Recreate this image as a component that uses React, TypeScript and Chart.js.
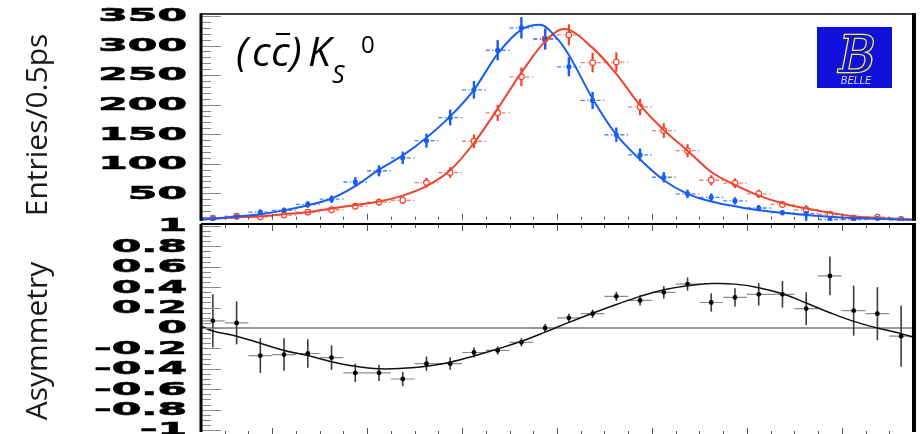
import React, { useEffect, useRef } from "react";
import { Chart, registerables } from "chart.js";
Chart.register(...registerables);

// ---------- data ----------
const binCenters = [-7.25, -6.75, -6.25, -5.75, -5.25, -4.75, -4.25, -3.75, -3.25, -2.75, -2.25, -1.75, -1.25, -0.75, -0.25, 0.25, 0.75, 1.25, 1.75, 2.25, 2.75, 3.25, 3.75, 4.25, 4.75, 5.25, 5.75, 6.25, 6.75, 7.25];
const binHalfWidth = 0.25;

const blueCounts = [7, 10, 18, 21, 31, 40, 69, 88, 110, 139, 178, 225, 292, 330, 311, 264, 207, 149, 115, 77, 49, 43, 37, 25, 17, 15.5, 5.5, 5.5, 7, 5];
const blueErr = [2.6, 3.2, 4.2, 4.6, 5.6, 6.3, 8.3, 9.4, 10.5, 11.8, 13.3, 15, 17.1, 18.2, 17.6, 16.2, 14.4, 12.2, 10.7, 8.8, 7, 6.6, 6.1, 5, 4.1, 14, 2.3, 2.3, 2.6, 2.2];
const redCounts = [8, 11, 10, 13, 18, 22, 28, 35, 38, 68, 85, 138, 186, 247, 311, 318, 271, 272, 196, 156, 122, 72, 67, 49, 31, 22, 14, 8, 9.5, 5.5];
const redErr = [2.8, 3.3, 3.2, 3.6, 4.2, 4.7, 5.3, 5.9, 6.2, 8.2, 9.2, 11.7, 13.6, 15.7, 17.6, 17.8, 16.5, 16.5, 14, 12.5, 11, 8.5, 8.2, 7, 5.6, 4.7, 3.7, 2.8, 3.1, 2.3];

const blueFitT = [-7.5, -7.25, -6.75, -6.25, -5.75, -5.25, -4.75, -4.25, -3.75, -3.25, -2.75, -2.25, -1.75, -1.25, -0.75, -0.35, 0, 0.25, 0.75, 1.25, 1.75, 2.25, 2.75, 3.25, 3.75, 4.25, 4.75, 5.25, 5.75, 6.25, 6.75, 7.25, 7.5];
const blueFitY = [5.5, 7, 10.5, 14.5, 21, 29.5, 41, 62, 90, 114, 144, 180, 225, 286, 327, 335, 312, 284, 210, 149, 107, 72, 49, 36, 28, 21, 17, 13, 10, 8, 7, 5.5, 4.5];
const redFitT = [-7.5, -7.25, -6.75, -6.25, -5.75, -5.25, -4.75, -4.25, -3.75, -3.25, -2.75, -2.25, -1.75, -1.25, -0.75, -0.25, 0.15, 0.75, 1.25, 1.75, 2.25, 2.75, 3.25, 3.75, 4.25, 4.75, 5.25, 5.75, 6.25, 6.75, 7.25, 7.5];
const redFitY = [4.5, 7, 9, 11, 14.5, 18, 24, 30, 36, 46, 62, 89, 135, 193, 254, 307, 328, 296, 252, 199, 157, 122, 86, 64, 46, 33, 24, 17, 11, 8, 6.5, 5.5];

const asymValues = [0.07, 0.05, -0.27, -0.26, -0.25, -0.29, -0.44, -0.44, -0.5, -0.35, -0.35, -0.24, -0.22, -0.14, 0.0, 0.1, 0.14, 0.31, 0.27, 0.35, 0.43, 0.25, 0.3, 0.33, 0.33, 0.19, 0.51, 0.17, 0.14, -0.08];
const asymErr = [0.26, 0.21, 0.17, 0.16, 0.14, 0.12, 0.09, 0.08, 0.07, 0.07, 0.06, 0.05, 0.04, 0.04, 0.04, 0.04, 0.04, 0.045, 0.05, 0.06, 0.065, 0.09, 0.09, 0.11, 0.13, 0.16, 0.19, 0.245, 0.26, 0.3];
const asymFitT = [-7.5, -7.25, -6.75, -6.25, -5.75, -5.25, -4.75, -4.25, -3.75, -3.25, -2.75, -2.25, -1.75, -1.25, -0.75, -0.25, 0.25, 0.75, 1.25, 1.75, 2.25, 2.75, 3.25, 3.75, 4.25, 4.75, 5.25, 5.75, 6.25, 6.75, 7.25, 7.5];
const asymFitY = [0.02, -0.03, -0.08, -0.15, -0.22, -0.27, -0.33, -0.375, -0.4, -0.395, -0.375, -0.335, -0.275, -0.205, -0.13, -0.04, 0.055, 0.145, 0.23, 0.31, 0.375, 0.415, 0.435, 0.43, 0.395, 0.335, 0.245, 0.15, 0.065, 0.0, -0.055, -0.09];

const topTickValues = [50, 100, 150, 200, 250, 300, 350];
const topTickLabels = ["50", "100", "150", "200", "250", "300", "350"];
const asymTickValues = [1, 0.8, 0.6, 0.4, 0.2, 0, -0.2, -0.4, -0.6, -0.8, -1];
const asymTickLabels = ["1", "0.8", "0.6", "0.4", "0.2", "0", "-0.2", "-0.4", "-0.6", "-0.8", "-1"];
const xMajorTicks = [-6, -4, -2, 0, 2, 4, 6];

// ---------- styles ----------
const BLUE = "#1b5df2";
const BLUE_LIGHT = "#4a80f5";
const RED = "#f0432c";
const RED_LIGHT = "#f37f6e";
const TICK = "#8a8a8a";

function drawErrors(ctx: any, xs: any, ys: any, vals: number[], errs: number[], vColor: string, hColor: string, dashed: boolean, vWidth: number, hWidth: number, gap: number) {
  for (let i = 0; i < vals.length; i++) {
    const t = binCenters[i];
    const px = xs.getPixelForValue(t);
    const py = ys.getPixelForValue(vals[i]);
    const pt = Math.max(ys.top, ys.getPixelForValue(vals[i] + errs[i]));
    const pb = Math.min(ys.bottom, ys.getPixelForValue(vals[i] - errs[i]));
    ctx.strokeStyle = vColor;
    ctx.lineWidth = vWidth;
    ctx.setLineDash([]);
    ctx.beginPath();
    ctx.moveTo(px, pt);
    ctx.lineTo(px, pb);
    ctx.stroke();
    const xl = xs.getPixelForValue(t - binHalfWidth);
    const xr = xs.getPixelForValue(t + binHalfWidth);
    ctx.strokeStyle = hColor;
    ctx.lineWidth = hWidth;
    if (dashed) ctx.setLineDash([4, 2.5]);
    ctx.beginPath();
    ctx.moveTo(xl, py);
    ctx.lineTo(px - gap, py);
    ctx.moveTo(px + gap, py);
    ctx.lineTo(xr, py);
    ctx.stroke();
    ctx.setLineDash([]);
  }
}

function drawStretchedLabel(ctx: any, text: string, xRight: number, y: number) {
  ctx.save();
  ctx.translate(xRight, y);
  ctx.scale(2.5, 1);
  ctx.font = 'bold 17px "DejaVu Sans"';
  ctx.fillStyle = "#000";
  ctx.textAlign = "right";
  ctx.textBaseline = "middle";
  ctx.fillText(text, 0, 1);
  ctx.strokeStyle = "#000";
  ctx.lineWidth = 0.6;
  ctx.strokeText(text, 0, 1);
  ctx.restore();
}

function drawRotatedTitle(ctx: any, text: string, cx: number, cy: number) {
  ctx.save();
  ctx.translate(cx, cy);
  ctx.rotate(-Math.PI / 2);
  ctx.font = '30px "Open Sans"';
  ctx.fillStyle = "#1a1a1a";
  ctx.textAlign = "center";
  ctx.textBaseline = "middle";
  ctx.fillText(text, 0, 0);
  ctx.restore();
}

function drawXTicks(ctx: any, xs: any, yEdge: number, dir: number) {
  ctx.strokeStyle = "#555";
  ctx.lineWidth = 1;
  ctx.beginPath();
  for (let t = -7; t <= 7.001; t += 0.5) {
    const px = Math.round(xs.getPixelForValue(t)) + 0.5;
    const major = xMajorTicks.some((m) => Math.abs(m - t) < 1e-6);
    const len = major ? 6 : 3;
    ctx.moveTo(px, yEdge);
    ctx.lineTo(px, yEdge + dir * len);
  }
  ctx.stroke();
}

function drawYTicks(ctx: any, ys: any, left: number, minorStep: number, vmin: number, vmax: number, majors: number[]) {
  ctx.strokeStyle = TICK;
  ctx.lineWidth = 1;
  ctx.beginPath();
  const n = Math.round((vmax - vmin) / minorStep);
  for (let k = 0; k <= n; k++) {
    const v = vmin + k * minorStep;
    const py = Math.round(ys.getPixelForValue(v)) + 0.5;
    if (py < ys.top + 1 || py > ys.bottom - 1) continue;
    const major = majors.some((m) => Math.abs(m - v) < 1e-6);
    ctx.moveTo(left, py);
    ctx.lineTo(left + (major ? 20 : 10), py);
  }
  ctx.stroke();
}

const topPlugin = {
  id: "topPanel",
  beforeDatasetsDraw(chart: any) {
    const { ctx, scales } = chart;
    ctx.save();
    drawErrors(ctx, scales.x, scales.y, redCounts, redErr, RED, RED_LIGHT, true, 2.2, 1.3, 4);
    drawErrors(ctx, scales.x, scales.y, blueCounts, blueErr, BLUE, BLUE_LIGHT, true, 2.4, 1.3, 4);
    ctx.restore();
  },
  afterDraw(chart: any) {
    const { ctx, chartArea: a, scales } = chart;
    const xs = scales.x, ys = scales.y;
    ctx.save();
    drawYTicks(ctx, ys, a.left, 10, 0, 350, topTickValues);
    drawXTicks(ctx, xs, a.bottom - 1, -1);
    // frame
    ctx.strokeStyle = "#000";
    ctx.lineWidth = 1.6;
    ctx.beginPath();
    ctx.moveTo(a.left, a.top);
    ctx.lineTo(a.right, a.top);
    ctx.stroke();
    ctx.lineWidth = 3;
    ctx.beginPath();
    ctx.moveTo(a.left, a.top - 0.8);
    ctx.lineTo(a.left, a.bottom);
    ctx.stroke();
    ctx.lineWidth = 4;
    ctx.beginPath();
    ctx.moveTo(a.right + 1, a.top - 0.8);
    ctx.lineTo(a.right + 1, a.bottom);
    ctx.stroke();
    // tick labels
    topTickValues.forEach((v, i) => drawStretchedLabel(ctx, topTickLabels[i], 187, ys.getPixelForValue(v)));
    drawRotatedTitle(ctx, "Entries/0.5ps", 38, 125);
    // panel title (cc̄)K_S^0
    ctx.fillStyle = "#000";
    ctx.textBaseline = "alphabetic";
    ctx.textAlign = "left";
    ctx.font = 'italic 41px "Open Sans"';
    const base = 66;
    ctx.fillText("(", 236, base);
    ctx.fillText("c", 252, base);
    ctx.fillText("c", 271, base);
    ctx.fillText(")", 290, base);
    ctx.fillText("K", 308, base);
    ctx.strokeStyle = "#000";
    ctx.lineWidth = 2;
    ctx.beginPath();
    ctx.moveTo(276, 34);
    ctx.lineTo(290, 34);
    ctx.stroke();
    ctx.font = 'italic 25px "Open Sans"';
    ctx.fillText("S", 332, 83);
    ctx.font = '24px "Open Sans"';
    ctx.fillText("0", 361, 53);
    // BELLE logo
    ctx.fillStyle = "#1010dc";
    ctx.fillRect(817, 27, 75, 61);
    ctx.font = 'italic 50px "DejaVu Serif"';
    ctx.textAlign = "center";
    ctx.textBaseline = "alphabetic";
    ctx.lineWidth = 2.5;
    ctx.strokeStyle = "#f4f436";
    ctx.strokeText("B", 857, 72);
    ctx.fillStyle = "#1010dc";
    ctx.fillText("B", 857, 72);
    ctx.font = 'italic 10px "DejaVu Sans"';
    ctx.fillStyle = "#d0d0e0";
    ctx.fillText("BELLE", 856, 84);
    ctx.restore();
  },
};

const bottomPlugin = {
  id: "bottomPanel",
  beforeDatasetsDraw(chart: any) {
    const { ctx, chartArea: a, scales } = chart;
    ctx.save();
    ctx.strokeStyle = "#9a9a9a";
    ctx.lineWidth = 2;
    ctx.beginPath();
    const y0 = scales.y.getPixelForValue(0);
    ctx.moveTo(a.left, y0);
    ctx.lineTo(a.right, y0);
    ctx.stroke();
    drawErrors(ctx, scales.x, scales.y, asymValues, asymErr, "#3c3c3c", "#8c8c8c", false, 1.6, 1.2, 0);
    ctx.restore();
  },
  afterDraw(chart: any) {
    const { ctx, chartArea: a, scales } = chart;
    const xs = scales.x, ys = scales.y;
    ctx.save();
    drawYTicks(ctx, ys, a.left, 0.05, -1, 1, asymTickValues);
    drawXTicks(ctx, xs, a.top + 1, 1);
    drawXTicks(ctx, xs, 434 - 214, -1);
    ctx.strokeStyle = "#000";
    ctx.lineWidth = 2;
    ctx.beginPath();
    ctx.moveTo(a.left, a.top);
    ctx.lineTo(a.right + 3, a.top);
    ctx.stroke();
    ctx.lineWidth = 3;
    ctx.beginPath();
    ctx.moveTo(a.left, a.top);
    ctx.lineTo(a.left, a.bottom);
    ctx.stroke();
    ctx.lineWidth = 4;
    ctx.beginPath();
    ctx.moveTo(a.right + 1, a.top);
    ctx.lineTo(a.right + 1, a.bottom);
    ctx.stroke();
    asymTickValues.forEach((v, i) => drawStretchedLabel(ctx, asymTickLabels[i], 187, ys.getPixelForValue(v)));
    drawRotatedTitle(ctx, "Asymmetry", 38, 341 - 214);
    ctx.restore();
  },
};

export default function App() {
  const topRef = useRef<HTMLCanvasElement | null>(null);
  const botRef = useRef<HTMLCanvasElement | null>(null);

  useEffect(() => {
    const common: any = {
      animation: false,
      responsive: false,
      devicePixelRatio: 1,
      events: [],
      plugins: { legend: { display: false }, tooltip: { enabled: false } },
    };
    const top = new Chart(topRef.current as HTMLCanvasElement, {
      type: "line",
      data: {
        datasets: [
          { label: "fit B0bar", data: blueFitT.map((t, i) => ({ x: t, y: blueFitY[i] })), borderColor: BLUE, borderWidth: 2, pointRadius: 0, cubicInterpolationMode: "monotone" },
          { label: "fit B0", data: redFitT.map((t, i) => ({ x: t, y: redFitY[i] })), borderColor: RED, borderWidth: 2, pointRadius: 0, cubicInterpolationMode: "monotone" },
          { label: "B0bar tag", data: binCenters.map((t, i) => ({ x: t, y: blueCounts[i] })), showLine: false, pointRadius: 2.6, pointBackgroundColor: BLUE, pointBorderColor: BLUE, pointBorderWidth: 0 },
          { label: "B0 tag", data: binCenters.map((t, i) => ({ x: t, y: redCounts[i] })), showLine: false, pointRadius: 2.8, pointBackgroundColor: "#ffffff", pointBorderColor: RED, pointBorderWidth: 1.2 },
        ],
      } as any,
      options: {
        ...common,
        layout: { padding: { left: 201, right: 8, top: 14, bottom: 2 } },
        scales: {
          x: { type: "linear", min: -7.5, max: 7.5, display: false },
          y: { type: "linear", min: 10 / 3, max: 350 + 10 / 3, display: false },
        },
      },
      plugins: [topPlugin],
    });
    const bot = new Chart(botRef.current as HTMLCanvasElement, {
      type: "line",
      data: {
        datasets: [
          { label: "fit", data: asymFitT.map((t, i) => ({ x: t, y: asymFitY[i] })), borderColor: "#111", borderWidth: 1.5, pointRadius: 0, tension: 0.4 },
          { label: "asym", data: binCenters.map((t, i) => ({ x: t, y: asymValues[i] })), showLine: false, pointRadius: 2.4, pointBackgroundColor: "#000", pointBorderColor: "#000", pointBorderWidth: 0 },
        ],
      } as any,
      options: {
        ...common,
        layout: { padding: { left: 201, right: 8, top: 10, bottom: 0 } },
        scales: {
          x: { type: "linear", min: -7.5, max: 7.5, display: false },
          y: { type: "linear", min: -1 - 2 / 104, max: 1 + 2 / 104, display: false },
        },
      },
      plugins: [bottomPlugin],
    });
    return () => {
      top.destroy();
      bot.destroy();
    };
  }, []);

  return (
    <div style={{ position: "absolute", left: 0, top: 0, width: 921, height: 434, background: "#fff", overflow: "hidden" }}>
      <canvas ref={topRef} width={921} height={226} style={{ position: "absolute", left: 0, top: 0 }} />
      <canvas ref={botRef} width={921} height={222} style={{ position: "absolute", left: 0, top: 214 }} />
    </div>
  );
}
